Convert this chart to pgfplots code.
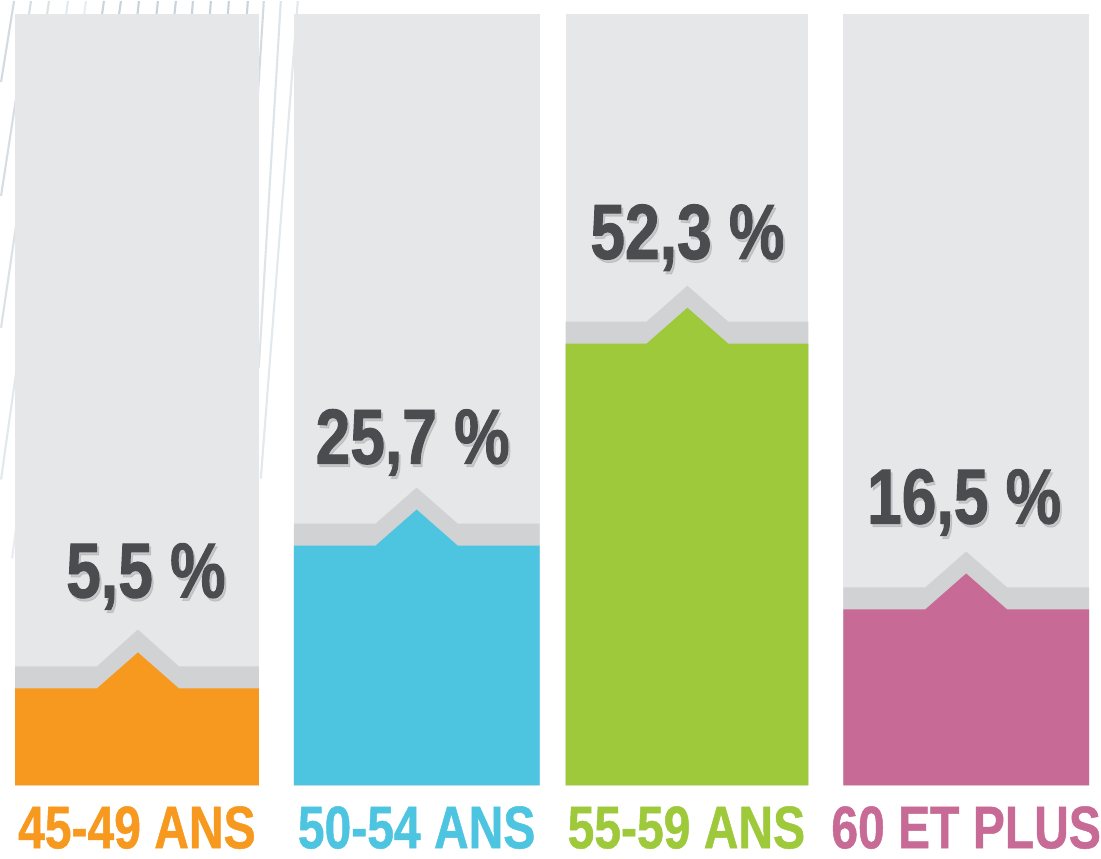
\documentclass[border=0pt]{standalone}
\usepackage{pgfplots}
\pgfplotsset{compat=1.18}
\usepackage{fontspec}
\setmainfont{Liberation Sans}[FakeStretch=0.82]
\newfontfamily\pctfont{Liberation Sans}[FakeStretch=0.80, BoldFeatures={FakeBold=1.2}]
\newfontfamily\catfont{Liberation Sans}[FakeStretch=0.80, BoldFeatures={FakeBold=0.8}]
\definecolor{bgbar}{HTML}{E6E7E9}
\definecolor{band}{HTML}{D1D2D4}
\definecolor{txt}{HTML}{4A4C4F}
\definecolor{shad}{HTML}{A9AAAD}
\definecolor{cor}{HTML}{F7991F}
\definecolor{cbl}{HTML}{4DC5E0}
\definecolor{cgr}{HTML}{9DC93B}
\definecolor{cpk}{HTML}{C76A96}
\definecolor{deco}{HTML}{C9D3DA}
\newcommand{\pct}[1]{\pctfont\fontsize{22.2}{24}\selectfont\bfseries #1}
\newcommand{\cat}[1]{\catfont\fontsize{17.1}{19}\selectfont\bfseries #1}
\begin{document}
\begin{tikzpicture}
\begin{axis}[
  width=11.01cm, height=8.58cm, scale only axis,
  xmin=0, xmax=1101, ymin=0, ymax=858,
  hide axis, clip=false]
% white page
\addplot[draw=none, fill=white] coordinates {(0,0) (1101,0) (1101,858) (0,858)} -- cycle;
% decorative diagonal lines (background)
\addplot[deco, line width=0.6pt, opacity=0.8] coordinates {(13,858) (0,777)};
\addplot[deco, line width=0.6pt, opacity=0.75] coordinates {(30,858) (0,663)};
\addplot[deco, line width=0.6pt, opacity=0.65] coordinates {(48,858) (0,531)};
\addplot[deco, line width=0.6pt, opacity=0.5] coordinates {(67,858) (0,379)};
\addplot[deco, line width=0.6pt, opacity=0.4] coordinates {(85,858) (11,300)};
\addplot[deco, line width=0.6pt] coordinates {(103,858) (99,830)};
\addplot[deco, line width=0.6pt] coordinates {(120,858) (116,830)};
\addplot[deco, line width=0.6pt] coordinates {(138,858) (135,830)};
\addplot[deco, line width=0.6pt] coordinates {(157,858) (154,830)};
\addplot[deco, line width=0.6pt] coordinates {(175,858) (172,830)};
\addplot[deco, line width=0.6pt] coordinates {(192,858) (190,830)};
\addplot[deco, line width=0.6pt] coordinates {(210,858) (208,830)};
\addplot[deco, line width=0.6pt] coordinates {(228,858) (226,830)};
\addplot[deco, line width=0.6pt] coordinates {(247,858) (245,830)};
\addplot[deco, line width=0.6pt, opacity=0.8] coordinates {(263,858) (253,700)};
\addplot[deco, line width=0.6pt, opacity=0.6] coordinates {(280,858) (258,491)};
\addplot[deco, line width=0.6pt, opacity=0.5] coordinates {(297,858) (260,380)};
% grey backgrounds
\addplot[draw=none, fill=bgbar] coordinates {(14,73) (258,73) (258,845) (14,845)} -- cycle;
\addplot[draw=none, fill=bgbar] coordinates {(293,73) (539,73) (539,845) (293,845)} -- cycle;
\addplot[draw=none, fill=bgbar] coordinates {(565,73) (808,73) (808,845) (565,845)} -- cycle;
\addplot[draw=none, fill=bgbar] coordinates {(843,73) (1089,73) (1089,845) (843,845)} -- cycle;
% bands (shadow above coloured bars)
\addplot[draw=none, fill=band] coordinates {(14,73) (14,192) (96,192) (137,229) (178,192) (258,192) (258,73)} -- cycle;
\addplot[draw=none, fill=band] coordinates {(293,73) (293,335) (375,335) (416,371) (457,335) (539,335) (539,73)} -- cycle;
\addplot[draw=none, fill=band] coordinates {(565,73) (565,537) (646,537) (687,573) (728,537) (808,537) (808,73)} -- cycle;
\addplot[draw=none, fill=band] coordinates {(843,73) (843,271) (925,271) (966,307) (1007,271) (1089,271) (1089,73)} -- cycle;
% coloured bars
\addplot[draw=none, fill=cor] coordinates {(14,73) (14,170) (96,170) (137,206) (178,170) (258,170) (258,73)} -- cycle;
\addplot[draw=none, fill=cbl] coordinates {(293,73) (293,313) (375,313) (416,349) (457,313) (539,313) (539,73)} -- cycle;
\addplot[draw=none, fill=cgr] coordinates {(565,73) (565,515) (646,515) (687,551) (728,515) (808,515) (808,73)} -- cycle;
\addplot[draw=none, fill=cpk] coordinates {(843,73) (843,249) (925,249) (966,285) (1007,249) (1089,249) (1089,73)} -- cycle;
% value labels (shadow + text)
\node[anchor=base, text=shad, opacity=0.5, inner sep=0pt] at (axis cs:147,258) {\pct{5,5 \%}};
\node[anchor=base, text=txt, inner sep=0pt] at (axis cs:145,261) {\pct{5,5 \%}};
\node[anchor=base, text=shad, opacity=0.5, inner sep=0pt] at (axis cs:414,392) {\pct{25,7 \%}};
\node[anchor=base, text=txt, inner sep=0pt] at (axis cs:412,395) {\pct{25,7 \%}};
\node[anchor=base, text=shad, opacity=0.5, inner sep=0pt] at (axis cs:689,597) {\pct{52,3 \%}};
\node[anchor=base, text=txt, inner sep=0pt] at (axis cs:687,600) {\pct{52,3 \%}};
\node[anchor=base, text=shad, opacity=0.5, inner sep=0pt] at (axis cs:966,332) {\pct{16,5 \%}};
\node[anchor=base, text=txt, inner sep=0pt] at (axis cs:964,335) {\pct{16,5 \%}};
% category labels
\node[anchor=base, text=cor, inner sep=0pt] at (axis cs:136,10) {\cat{45-49 ANS}};
\node[anchor=base, text=cbl, inner sep=0pt] at (axis cs:416,10) {\cat{50-54 ANS}};
\node[anchor=base, text=cgr, inner sep=0pt] at (axis cs:686,10) {\cat{55-59 ANS}};
\node[anchor=base, text=cpk, inner sep=0pt] at (axis cs:966,10) {\cat{60 ET PLUS}};
\end{axis}
\end{tikzpicture}
\end{document}
